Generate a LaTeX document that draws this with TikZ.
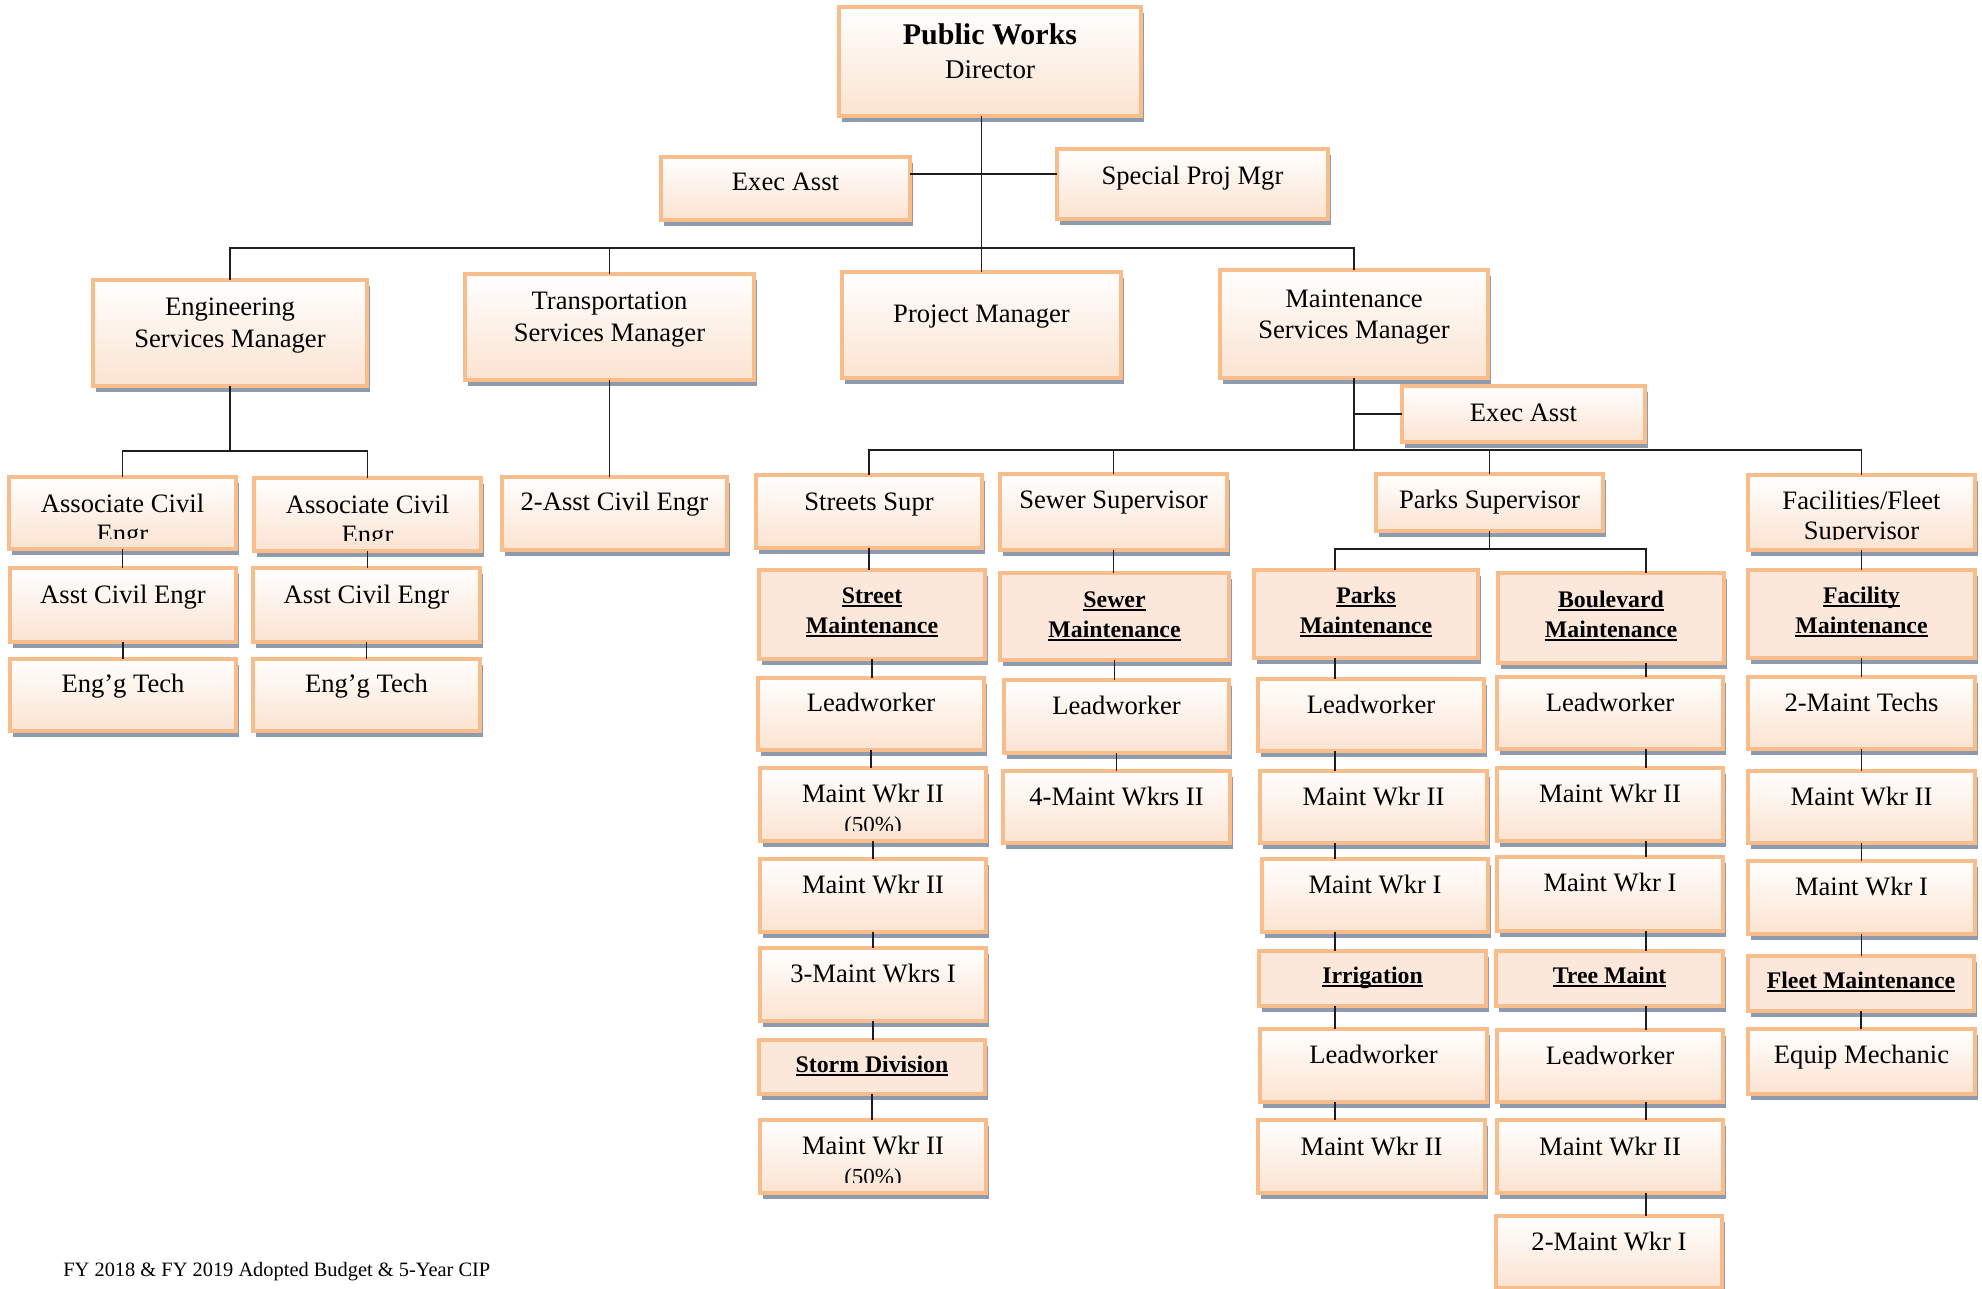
\documentclass[tikz,border=0pt]{standalone}
\usepackage{fontspec}
\setmainfont{Liberation Serif}
\usetikzlibrary{shadows,calc}
\definecolor{bord}{RGB}{249,189,140}
\definecolor{peach}{RGB}{252,232,218}
\definecolor{peachb}{RGB}{251,227,209}
\definecolor{shc}{RGB}{142,155,174}
\definecolor{lnc}{RGB}{30,30,30}
\newcommand\tl[1]{\vtop{\baselineskip=15pt\lineskiplimit=-20pt\halign{\hfil##\hfil\cr#1\crcr}}}
\newcommand\ul[1]{\setbox0=\hbox{#1}\rlap{\rule[-1.8pt]{\wd0}{0.9pt}}\box0}
\newcommand\hd[1]{{\fontsize{11.9}{15}\selectfont\bfseries\ul{#1}}}
\newcommand\bx[8]{%
\node[#2, minimum width={(#5-#3)*0.5pt}, minimum height={(#6-#4)*0.5pt},
 path picture={\begin{scope}
 \clip ([yshift=5.5pt]path picture bounding box.south west) rectangle (path picture bounding box.north east);
 \node[anchor=base, inner sep=0pt, font=\fontsize{13.3}{15}\selectfont] (#1t) at ([yshift={-(#7)*0.5pt}]path picture bounding box.north) {\tl{#8}};
 \end{scope}}] (#1) at ({(#3+#5)/2},{(#4+#6)/2}) {};}
\tikzset{
 rb/.style={draw=bord, line width=1.6pt, top color=white, bottom color=peachb, inner sep=0pt, outer sep=0pt,
   drop shadow={shadow xshift=1.5pt, shadow yshift=-3pt, fill=shc, opacity=1}},
 hb/.style={draw=bord, line width=1.6pt, fill=peach, inner sep=0pt, outer sep=0pt,
   drop shadow={shadow xshift=1.5pt, shadow yshift=-3pt, fill=shc, opacity=1}},
 conn/.style={draw=lnc, line width=0.9pt}
}
\begin{document}
\begin{tikzpicture}[x=0.5pt,y=-0.5pt]
\fill[white] (0,0) rectangle (1982,1289);
\useasboundingbox (0,0) rectangle (1982,1289);
% top level
\bx{dir}{rb}{839}{7}{1141}{116}{38}{{\fontsize{15}{17}\selectfont\bfseries Public Works}\cr\noalign{\vskip2pt}{\fontsize{13.5}{17}\selectfont Director}}
\bx{ea1}{rb}{661}{157}{910}{220}{34}{Exec Asst}
\bx{spm}{rb}{1057}{149}{1328}{219}{36}{Special Proj Mgr}
\bx{esm}{rb}{93}{280}{367}{386}{36}{Engineering\cr\noalign{\vskip1pt}Services Manager}
\bx{tsm}{rb}{465}{274}{754}{380}{36}{Transportation\cr\noalign{\vskip1pt}Services Manager}
\bx{pm}{rb}{842}{272}{1121}{378}{50}{Project Manager}
\bx{msm}{rb}{1220}{270}{1488}{378}{37}{Maintenance\cr\noalign{\vskip1pt}Services Manager}
\bx{ea2}{rb}{1402}{386}{1645}{442}{36}{Exec Asst}
% engineering
\bx{ace1}{rb}{9}{477}{236}{549}{35}{Associate Civil\cr Engr}
\bx{ace2}{rb}{254}{478}{481}{551}{35}{Associate Civil\cr Engr}
\bx{ac1}{rb}{10}{568}{236}{642}{35}{Asst Civil Engr}
\bx{ac2}{rb}{253}{568}{480}{642}{35}{Asst Civil Engr}
\bx{et1}{rb}{10}{659}{236}{731}{33}{Eng’g Tech}
\bx{et2}{rb}{253}{659}{480}{731}{33}{Eng’g Tech}
\bx{ac3}{rb}{502}{477}{727}{550}{33}{2-Asst Civil Engr}
% supervisors
\bx{ss}{rb}{756}{475}{982}{548}{35}{Streets Supr}
\bx{sws}{rb}{1000}{474}{1227}{550}{34}{Sewer Supervisor}
\bx{pks}{rb}{1376}{474}{1603}{531}{34}{Parks Supervisor}
\bx{ffs}{rb}{1748}{475}{1975}{550}{34}{Facilities/Fleet\cr Supervisor}
% section headers
\bx{stm}{hb}{759}{570}{985}{659}{33}{\hd{Street}\cr\hd{Maintenance}}
\bx{swm}{hb}{1000}{573}{1229}{660}{34}{\hd{Sewer}\cr\hd{Maintenance}}
\bx{pkm}{hb}{1254}{570}{1478}{658}{33}{\hd{Parks}\cr\hd{Maintenance}}
\bx{bvm}{hb}{1498}{573}{1724}{663}{34}{\hd{Boulevard}\cr\hd{Maintenance}}
\bx{fcm}{hb}{1748}{570}{1975}{658}{33}{\hd{Facility}\cr\hd{Maintenance}}
% streets column
\bx{lw1}{rb}{758}{678}{984}{750}{33}{Leadworker}
\bx{mw1}{rb}{760}{768}{986}{841}{34}{Maint Wkr II\cr{\fontsize{11.5}{14}\selectfont (50\%)}}
\bx{mw2}{rb}{760}{859}{986}{932}{34}{Maint Wkr II}
\bx{mw3}{rb}{760}{948}{986}{1021}{34}{3-Maint Wkrs I}
\bx{sd}{hb}{759}{1040}{985}{1094}{32}{\hd{Storm Division}}
\bx{mw4}{rb}{760}{1120}{986}{1193}{34}{Maint Wkr II\cr{\fontsize{11.5}{14}\selectfont (50\%)}}
% sewer column
\bx{lw2}{rb}{1004}{680}{1229}{753}{34}{Leadworker}
\bx{mw5}{rb}{1003}{771}{1230}{843}{34}{4-Maint Wkrs II}
% parks column
\bx{lw3}{rb}{1258}{679}{1484}{751}{34}{Leadworker}
\bx{pw2}{rb}{1260}{771}{1487}{843}{34}{Maint Wkr II}
\bx{pw1}{rb}{1262}{859}{1488}{932}{34}{Maint Wkr I}
\bx{irr}{hb}{1259}{951}{1486}{1006}{32}{\hd{Irrigation}}
\bx{lw4}{rb}{1260}{1029}{1487}{1102}{34}{Leadworker}
\bx{pw3}{rb}{1258}{1120}{1485}{1193}{35}{Maint Wkr II}
% boulevard column
\bx{lw5}{rb}{1497}{677}{1723}{749}{34}{Leadworker}
\bx{bw2}{rb}{1497}{768}{1723}{841}{34}{Maint Wkr II}
\bx{bw1}{rb}{1497}{857}{1723}{931}{34}{Maint Wkr I}
\bx{tm}{hb}{1496}{951}{1723}{1006}{32}{\hd{Tree Maint}}
\bx{lw6}{rb}{1497}{1030}{1723}{1102}{34}{Leadworker}
\bx{tw2}{rb}{1497}{1120}{1723}{1193}{35}{Maint Wkr II}
\bx{tw1}{rb}{1496}{1216}{1722}{1288}{34}{2-Maint Wkr I}
% facilities column
\bx{mt}{rb}{1748}{677}{1975}{749}{34}{2-Maint Techs}
\bx{fw2}{rb}{1748}{771}{1975}{843}{34}{Maint Wkr II}
\bx{fw1}{rb}{1748}{861}{1975}{934}{34}{Maint Wkr I}
\bx{flm}{hb}{1748}{956}{1974}{1011}{32}{\hd{Fleet Maintenance}}
\bx{em}{rb}{1748}{1029}{1975}{1094}{34}{Equip Mechanic}
% footer
\node[anchor=base west, inner sep=0pt, font=\fontsize{10.2}{12}\selectfont] (foot) at (63,1276) {FY 2018 \& FY 2019 Adopted Budget \& 5-Year CIP};
% connectors
\coordinate (j1) at (0,174);
\coordinate (b1) at (0,248);
\coordinate (b2) at (0,451);
\coordinate (j2) at (0,414);
\coordinate (b3) at (0,450);
\coordinate (b4) at (0,549);
\coordinate (pcol) at (1335,0);
\coordinate (bcol) at (1646,0);
\begin{scope}[conn]
\draw (dir.south -| pm.north) -- (pm.north);
\draw (ea1.east |- j1) -- (spm.west |- j1);
\draw (esm.north) -- (esm.north |- b1) -- (msm.north |- b1) -- (msm.north);
\draw (tsm.north) -- (tsm.north |- b1);
\draw (esm.south) -- (esm.south |- b2);
\draw (ace1.north) -- (ace1.north |- b2) -- (ace2.north |- b2) -- (ace2.north);
\foreach \p/\q in {ace1/ac1, ac1/et1, ace2/ac2, ac2/et2}
  \draw (\p.south) -- (\p.south |- \q.north);
\draw (tsm.south) -- (tsm.south |- ac3.north);
\draw (msm.south) -- (msm.south |- b3);
\draw (msm.south |- j2) -- (ea2.west |- j2);
\draw (ss.north) -- (ss.north |- b3) -- (ffs.north |- b3) -- (ffs.north);
\draw (sws.north) -- (sws.north |- b3);
\draw (pks.north) -- (pks.north |- b3);
\foreach \p/\q in {ss/stm, stm/lw1, lw1/mw1, mw1/mw2, mw2/mw3, mw3/sd, sd/mw4,
                   sws/swm, swm/lw2, lw2/mw5,
                   ffs/fcm, fcm/mt, mt/fw2, fw2/fw1, fw1/flm, flm/em}
  \draw (\p.south) -- (\p.south |- \q.north);
\draw (pks.south) -- (pks.south |- b4);
\draw (pcol |- pkm.north) -- (pcol |- b4) -- (bcol |- b4) -- (bcol |- bvm.north);
\foreach \p/\q in {pkm/lw3, lw3/pw2, pw2/pw1, pw1/irr, irr/lw4, lw4/pw3}
  \draw (pcol |- \p.south) -- (pcol |- \q.north);
\foreach \p/\q in {bvm/lw5, lw5/bw2, bw2/bw1, bw1/tm, tm/lw6, lw6/tw2, tw2/tw1}
  \draw (bcol |- \p.south) -- (bcol |- \q.north);
\end{scope}
\end{tikzpicture}
\end{document}
